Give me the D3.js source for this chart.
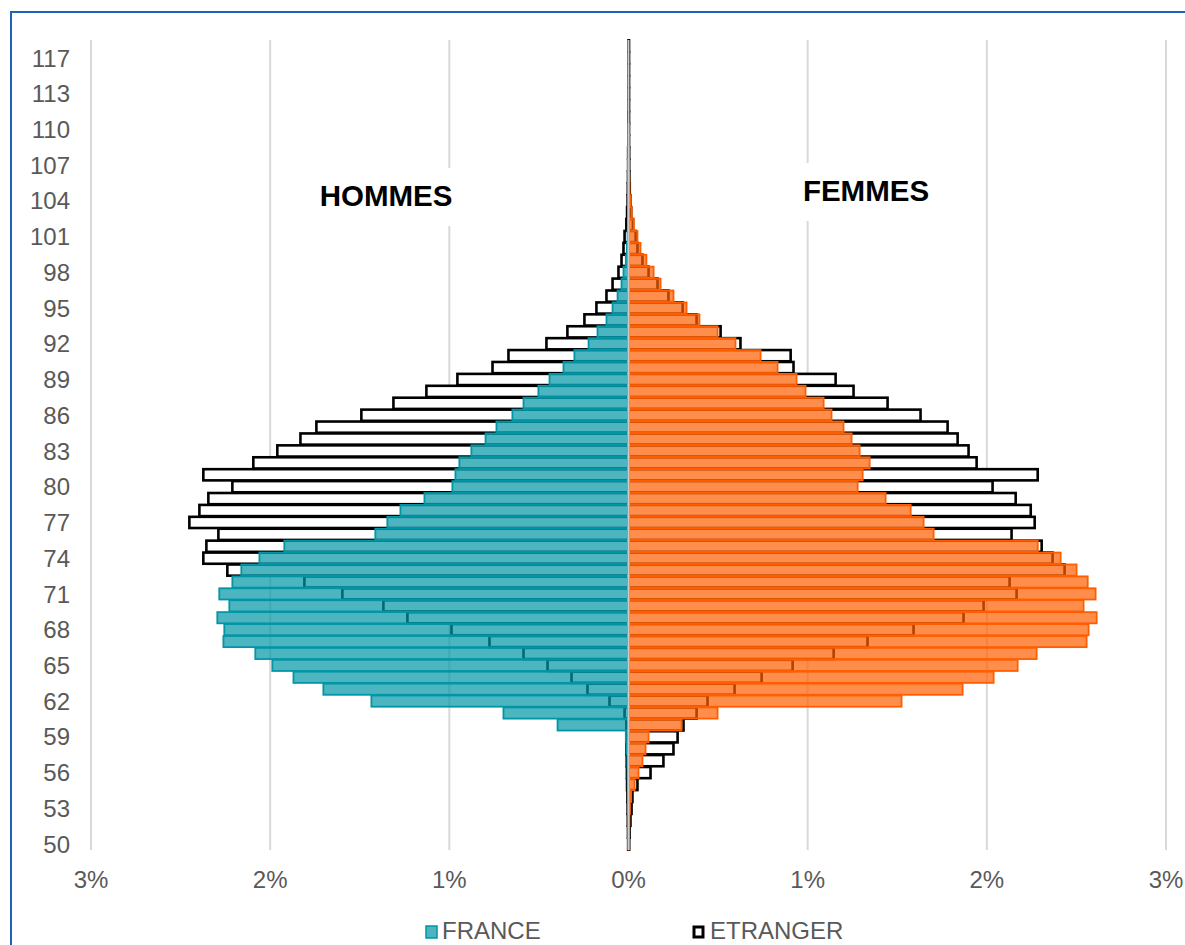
<!DOCTYPE html>
<html><head><meta charset="utf-8">
<script src="https://cdn.jsdelivr.net/npm/d3@7"></script>
<style>
body{margin:0;background:#fff}
svg{display:block}
text{font-family:"Liberation Sans",Arial,sans-serif}
</style>
</head><body>
<svg id="chart" width="1185" height="945"></svg>
<script>
// ---- DATA ----
const ages = [50,51,52,53,54,55,56,57,58,59,60,61,62,63,64,65,66,67,68,69,70,71,72,73,74,75,76,77,78,79,80,81,82,83,84,85,86,87,88,89,90,91,92,93,94,95,96,97,98,99,100,101,102,103,104,105,106,107,108,109,110,111,112,113,114,115,117,118];

const hommesFrance = [0,0,0,0.001,0.002,0.004,0.005,0.006,0.01,0.015,
  0.396,0.698,1.435,1.703,1.870,1.988,2.083,2.261,2.256,2.295,
  2.228,2.284,2.211,2.161,2.060,1.921,1.413,1.346,1.273,1.139,
  0.983,0.966,0.944,0.877,0.798,0.737,0.648,0.586,0.503,0.441,
  0.363,0.302,0.223,0.173,0.123,0.089,0.061,0.039,0.028,0.015,
  0.009,0.005,0.003,0.002,0.001,0.001,0.001,0.001,0,0,
  0,0,0,0,0,0,0,0];

const hommesEtranger = [0.002,0.003,0.004,0.005,0.006,0.008,0.009,0.01,0.011,0.012,
  0.012,0.022,0.106,0.229,0.318,0.452,0.586,0.776,0.988,1.234,
  1.368,1.597,1.809,2.239,2.373,2.356,2.289,2.451,2.395,2.345,
  2.211,2.373,2.094,1.960,1.831,1.742,1.491,1.312,1.128,0.955,
  0.759,0.670,0.458,0.341,0.246,0.179,0.123,0.089,0.056,0.039,
  0.028,0.022,0.012,0.008,0.005,0.004,0.003,0.002,0.002,0.001,
  0.001,0.001,0,0,0,0,0,0];

const femmesFrance = [0.002,0.003,0.005,0.008,0.015,0.034,0.056,0.078,0.095,0.112,
  0.296,0.497,1.524,1.865,2.038,2.172,2.278,2.557,2.568,2.613,
  2.540,2.607,2.563,2.501,2.412,2.284,1.703,1.647,1.575,1.435,
  1.279,1.307,1.346,1.290,1.245,1.200,1.133,1.089,0.988,0.938,
  0.832,0.737,0.597,0.497,0.396,0.324,0.251,0.179,0.140,0.100,
  0.067,0.050,0.030,0.018,0.010,0.006,0.004,0.003,0.002,0.001,
  0.001,0,0,0,0,0,0,0];

const femmesEtranger = [0.004,0.006,0.011,0.017,0.022,0.050,0.123,0.195,0.251,0.274,
  0.307,0.380,0.441,0.592,0.743,0.916,1.145,1.334,1.591,1.870,
  1.982,2.166,2.127,2.434,2.367,2.306,2.138,2.267,2.245,2.161,
  2.032,2.284,1.943,1.898,1.837,1.781,1.630,1.446,1.256,1.156,
  0.921,0.905,0.625,0.514,0.380,0.302,0.223,0.162,0.112,0.078,
  0.050,0.040,0.025,0.015,0.010,0.007,0.005,0.004,0.004,0.003,
  0.003,0.003,0.003,0.003,0.003,0.003,0.003,0.003];

const ageTickLabels = ["50","53","56","59","62","65","68","71","74","77","80","83","86","89","92","95","98","101","104","107","110","113","117"];
const xTicks = [-3,-2,-1,0,1,2,3];
const seriesNames = ["FRANCE","ETRANGER"];

// ---- LAYOUT ----
const svg = d3.select("#chart");
const plotTop = 40, plotBottom = 850;
const x = d3.scaleLinear().domain([-3,3]).range([91,1166]);
const y = d3.scaleBand().domain(ages.map(String)).range([plotBottom, plotTop]).paddingInner(0.06).paddingOuter(0.03);

const teal = "rgb(0,150,165)", orange = "rgb(255,94,0)";
const axisFont = 24;

// border
svg.append("path").attr("d","M11,945 V12 H1185").attr("fill","none").attr("stroke","#2063b6").attr("stroke-width",2);

// gridlines
svg.append("g").selectAll("line").data(xTicks).join("line")
  .attr("x1",d=>x(d)).attr("x2",d=>x(d)).attr("y1",plotTop).attr("y2",plotBottom)
  .attr("stroke","#d9d9d9").attr("stroke-width",2);

// Y axis labels
const labelSet = new Set(ageTickLabels);
svg.append("g").selectAll("text").data(ages.map(String).filter(a=>labelSet.has(a))).join("text")
  .attr("x",70).attr("y",d=>y(d)+y.bandwidth()/2).attr("dy","0.36em")
  .attr("text-anchor","end").attr("font-size",axisFont).attr("fill","#595959").text(d=>d);

// X axis labels
svg.append("g").selectAll("text").data(xTicks).join("text")
  .attr("x",d=>x(d)).attr("y",888).attr("text-anchor","middle")
  .attr("font-size",axisFont).attr("fill","#595959").text(d=>Math.abs(d)+"%");

// bars helper
function bars(values, side, fill, fillOp, stroke, sw){
  const g = svg.append("g");
  g.selectAll("rect").data(values.map((v,i)=>({v, age:String(ages[i])})).filter(d=>d.v>0)).join("rect")
    .attr("x", d=> side<0 ? x(-d.v) : x(0))
    .attr("width", d=> Math.abs(x(d.v)-x(0)))
    .attr("y", d=>y(d.age)).attr("height", y.bandwidth())
    .attr("fill", fill).attr("fill-opacity", fillOp)
    .attr("stroke", stroke).attr("stroke-width", sw);
}
// Etranger behind
bars(hommesEtranger, -1, "#fff", 1, "#000", 2.6);
bars(femmesEtranger, 1, "#fff", 1, "#000", 2.6);
// France on top (semi transparent)
bars(hommesFrance, -1, teal, 0.7, teal, 1.8);
bars(femmesFrance, 1, orange, 0.7, orange, 1.8);

// centre axis line
svg.append("line").attr("x1",x(0)).attr("x2",x(0)).attr("y1",plotTop).attr("y2",plotBottom)
  .attr("stroke","#cccccc").attr("stroke-width",2);

// HOMMES / FEMMES labels
svg.append("rect").attr("x",312).attr("y",168).attr("width",148).attr("height",58).attr("fill","#fff");
svg.append("text").attr("x",386).attr("y",206).attr("text-anchor","middle").attr("font-size",29.5).attr("font-weight","bold").attr("fill","#000").text("HOMMES");
svg.append("rect").attr("x",796).attr("y",163).attr("width",142).attr("height",58).attr("fill","#fff");
svg.append("text").attr("x",866).attr("y",201).attr("text-anchor","middle").attr("font-size",29.5).attr("font-weight","bold").attr("fill","#000").text("FEMMES");

// Legend
const lg = svg.append("g");
lg.append("rect").attr("x",426).attr("y",926).attr("width",11).attr("height",12)
  .attr("fill",teal).attr("fill-opacity",0.7).attr("stroke",teal).attr("stroke-width",1.5);
lg.append("text").attr("x",442).attr("y",939).attr("font-size",axisFont).attr("fill","#595959").text(seriesNames[0]);
lg.append("rect").attr("x",694).attr("y",927).attr("width",9).attr("height",10)
  .attr("fill","#fff").attr("stroke","#000").attr("stroke-width",3);
lg.append("text").attr("x",710).attr("y",939).attr("font-size",axisFont).attr("fill","#595959").text(seriesNames[1]);
</script>
</body></html>
